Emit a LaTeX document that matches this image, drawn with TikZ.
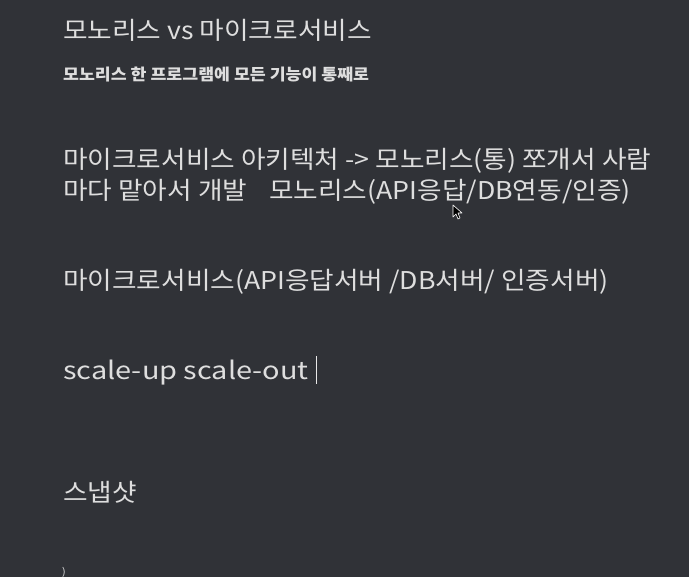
\documentclass[tikz,border=0pt]{standalone}
\usepackage{fontspec}
\setmainfont[FakeStretch=1.09]{Noto Sans CJK KR}
\newfontfamily\subfont[FakeStretch=1.08]{Noto Sans CJK KR}
\newfontfamily\widefont[FakeStretch=1.18]{Noto Sans CJK KR}
\usetikzlibrary{positioning}
\definecolor{bgdark}{HTML}{303237}
\definecolor{txtlight}{HTML}{DEDEDE}

\tikzset{
  line/.style={anchor=base west, inner sep=0pt, text=txtlight},
  big/.style={line, font=\fontsize{24.5}{28}\selectfont},
  small/.style={line, font=\subfont\fontsize{16}{18}\selectfont\bfseries},
}

\begin{document}
\begin{tikzpicture}[x=1pt,y=-1pt]
      \fill[bgdark] (0,0) rectangle (689,577);
      \useasboundingbox (0,0) rectangle (689,577);

      \node[big]   (title)  at (63,40)  {모노리스 vs 마이크로서비스};
      \node[small] (sub)    at (63,81)  {모노리스 한 프로그램에 모든 기능이 통째로};

      \node[big]   (arch)   at (63,169) {마이크로서비스 아키텍처 -> 모노리스(통) 쪼개서 사람};
      \node[big]   (dev)    at (63,200) {마다 맡아서 개발\hspace{0.9em}모노리스(API응답/DB연동/인증)};

      \node[big]   (micro)  at (63,290) {마이크로서비스(API응답서버 /DB서버/ 인증서버)};

      \node[big, font=\widefont\fontsize{24.5}{28}\selectfont] (scale) at (63,380) {scale-up scale-out};
      \draw[txtlight!70, line width=0.8pt] (316,356) -- (316,384);

      \node[big]   (snap)   at (63,502) {스냅샷};
      \node[line, font=\fontsize{10}{12}\selectfont] (paren) at (62,576) {)};

      % mouse pointer
      \draw[white, line width=0.6pt, fill=black, line join=round]
        (453,205) -- (453,217) -- (456,214) -- (458,219) -- (460,218)
        -- (458,213) -- (462,213) -- cycle;
\end{tikzpicture}
\end{document}
